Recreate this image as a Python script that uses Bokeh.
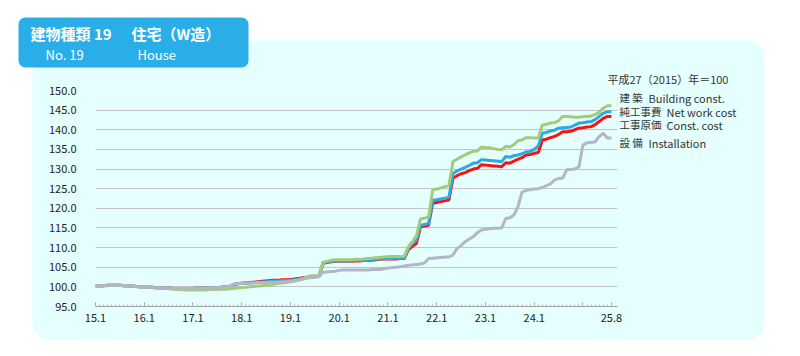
from bokeh.plotting import figure
from bokeh.layouts import column
from bokeh.models import (ColumnDataSource, Range1d, FixedTicker, PrintfTickFormatter,
                          BoxAnnotation, Label)
from bokeh.embed import file_html
from bokeh.resources import INLINE

# ---------------- data (monthly, 2015.1 - 2025.8, 2015 = 100) ----------------
tick_months = [0, 12, 24, 36, 48, 60, 72, 84, 96, 108, 120, 127]
tick_labels = ["15.1", "16.1", "17.1", "18.1", "19.1", "20.1", "21.1", "22.1",
               "23.1", "24.1", "", "25.8"]
y_ticks = [95, 100, 105, 110, 115, 120, 125, 130, 135, 140, 145, 150]

building = [
    100.2, 100.2, 100.3, 100.3, 100.4, 100.4, 100.4, 100.3, 100.3, 100.2, 100.1, 100.0,
    99.9, 99.9, 99.8, 99.7, 99.7, 99.6, 99.5, 99.4, 99.3, 99.3, 99.2, 99.2,
    99.2, 99.2, 99.2, 99.2, 99.3, 99.3, 99.3, 99.4, 99.4, 99.5, 99.6, 99.7,
    99.8, 99.9, 100.0, 100.1, 100.2, 100.3, 100.4, 100.5, 100.7, 100.9, 101.0, 101.1,
    101.3, 101.5, 101.7, 102.0, 102.6, 102.8, 102.8, 102.9, 106.3, 106.5, 106.8, 106.9,
    106.9, 106.9, 106.9, 106.9, 107.0, 107.0, 107.1, 107.2, 107.3, 107.4, 107.5, 107.6,
    107.7, 107.7, 107.7, 107.7, 107.8, 110.2, 111.5, 112.9, 117.3, 117.5, 117.8, 124.7,
    124.9, 125.2, 125.5, 125.9, 131.9, 132.5, 133.1, 133.6, 134.1, 134.5, 134.6, 135.6,
    135.5, 135.4, 135.2, 135.0, 134.9, 135.8, 135.6, 136.2, 137.2, 137.4, 138.0, 138.0,
    137.9, 137.9, 141.2, 141.4, 141.7, 141.8, 142.3, 143.4, 143.4, 143.3, 143.2, 143.2,
    143.3, 143.4, 143.5, 143.9, 144.5, 145.5, 146.1, 146.1,
]

net_work = [
    100.2, 100.3, 100.3, 100.4, 100.4, 100.4, 100.4, 100.3, 100.3, 100.2, 100.1, 100.0,
    100.0, 99.9, 99.9, 99.8, 99.8, 99.7, 99.7, 99.6, 99.6, 99.6, 99.6, 99.6,
    99.6, 99.7, 99.7, 99.7, 99.8, 99.8, 99.8, 99.9, 100.0, 100.1, 100.6, 100.8,
    100.9, 101.0, 101.0, 101.1, 101.2, 101.2, 101.3, 101.4, 101.5, 101.5, 101.6, 101.6,
    101.7, 101.8, 101.9, 102.1, 102.3, 102.5, 102.6, 102.7, 106.1, 106.3, 106.5, 106.6,
    106.6, 106.6, 106.6, 106.6, 106.7, 106.7, 106.8, 106.8, 106.9, 107.0, 107.1, 107.2,
    107.2, 107.2, 107.3, 107.3, 107.3, 109.8, 111.0, 111.9, 115.7, 115.9, 116.1, 122.1,
    122.2, 122.4, 122.6, 122.8, 128.9, 129.5, 130.0, 130.4, 130.9, 131.5, 131.6, 132.4,
    132.3, 132.2, 132.1, 132.0, 131.9, 133.2, 133.0, 133.4, 133.6, 133.9, 134.4, 134.5,
    135.0, 135.9, 139.1, 139.3, 139.7, 139.9, 140.4, 140.5, 140.6, 140.7, 141.2, 141.7,
    141.8, 142.0, 142.1, 142.6, 143.4, 144.2, 144.6, 144.6,
]

const_cost = [
    100.2, 100.3, 100.3, 100.4, 100.4, 100.4, 100.4, 100.3, 100.3, 100.2, 100.1, 100.0,
    100.0, 99.9, 99.9, 99.8, 99.8, 99.7, 99.7, 99.6, 99.6, 99.6, 99.6, 99.6,
    99.6, 99.7, 99.7, 99.7, 99.8, 99.8, 99.8, 99.9, 100.0, 100.1, 100.6, 100.8,
    100.9, 101.0, 101.1, 101.2, 101.3, 101.4, 101.5, 101.6, 101.7, 101.7, 101.8, 101.8,
    101.9, 102.0, 102.1, 102.3, 102.4, 102.5, 102.6, 102.7, 106.0, 106.2, 106.4, 106.5,
    106.5, 106.5, 106.5, 106.5, 106.6, 106.6, 106.7, 106.7, 106.8, 106.9, 107.0, 107.1,
    107.1, 107.1, 107.1, 107.2, 107.2, 109.4, 110.3, 111.1, 115.3, 115.5, 115.7, 121.3,
    121.5, 121.7, 121.9, 122.1, 127.7, 128.3, 128.8, 129.1, 129.6, 130.0, 130.2, 131.1,
    131.0, 130.9, 130.8, 130.7, 130.6, 131.6, 131.5, 132.0, 132.5, 132.9, 133.6, 133.7,
    134.0, 134.2, 137.4, 137.6, 138.0, 138.3, 138.8, 139.5, 139.5, 139.6, 140.0, 140.4,
    140.5, 140.7, 140.8, 141.3, 142.1, 142.9, 143.4, 143.4,
]

installation = [
    100.2, 100.3, 100.3, 100.4, 100.4, 100.4, 100.4, 100.3, 100.3, 100.2, 100.1, 100.0,
    100.0, 99.9, 99.9, 99.8, 99.8, 99.7, 99.7, 99.6, 99.6, 99.6, 99.6, 99.6,
    99.6, 99.7, 99.7, 99.7, 99.8, 99.8, 99.8, 99.9, 100.0, 100.1, 100.7, 100.8,
    100.9, 100.9, 101.0, 101.0, 101.1, 101.1, 101.1, 101.2, 101.2, 101.2, 101.3, 101.3,
    101.5, 101.6, 101.8, 102.0, 102.2, 102.4, 102.5, 102.6, 103.7, 103.8, 103.9, 104.0,
    104.2, 104.3, 104.3, 104.3, 104.3, 104.3, 104.3, 104.3, 104.4, 104.4, 104.4, 104.6,
    104.8, 104.9, 105.0, 105.1, 105.3, 105.5, 105.6, 105.7, 105.8, 106.1, 107.2, 107.3,
    107.4, 107.5, 107.6, 107.6, 108.1, 109.8, 110.5, 111.5, 112.2, 112.8, 113.8, 114.5,
    114.7, 114.8, 114.9, 114.9, 115.0, 117.4, 117.6, 118.3, 120.4, 124.2, 124.5, 124.8,
    124.9, 125.0, 125.3, 125.8, 126.2, 127.2, 127.6, 127.7, 129.8, 129.9, 130.0, 130.6,
    136.1, 136.7, 136.8, 136.9, 138.3, 139.1, 137.9, 137.9,
]

months = list(range(len(building)))

series_names = ["const_cost", "net_work", "building", "installation"]
legend_jp = ["建 築", "純工事費", "工事原価", "設 備"]
legend_en = ["Building const.", "Net work cost", "Const. cost", "Installation"]

# ---------------- styling ----------------
FONT = "Noto Sans CJK JP"
PANEL = "#E5FFFF"
TITLE_BLUE = "#2AAEE8"
colors = {"building": "#A2CB7A", "net_work": "#29ABE2",
          "const_cost": "#FF1010", "installation": "#B2B6C8"}

W, H = 800, 356

# ---- background / decoration layer (frame covers the whole canvas, pixel coords) ----
bg = figure(width=W, height=H, output_backend="svg", toolbar_location=None,
            x_range=Range1d(0, W), y_range=Range1d(H, 0),
            x_axis_type=None, y_axis_type=None, min_border=0, frame_align=False)
bg.outline_line_color = None
bg.border_fill_color = "white"
bg.background_fill_color = "white"
bg.xgrid.visible = False
bg.ygrid.visible = False

bg.add_layout(BoxAnnotation(left=32, right=764, top=40, bottom=339,
                            fill_color=PANEL, fill_alpha=1, line_color=None,
                            border_radius=16, level="underlay"))
bg.add_layout(BoxAnnotation(left=18, right=248, top=17, bottom=67,
                            fill_color=TITLE_BLUE, fill_alpha=1, line_color=None,
                            border_radius=7, level="underlay"))


def add_label(x, y, text, size, color, bold=False):
    bg.add_layout(Label(x=x, y=y, text=text,
                        text_font=FONT, text_font_size=size, text_color=color,
                        text_font_style="bold" if bold else "normal",
                        text_align="left", text_baseline="middle"))


add_label(30, 33, "建物種類 19", "15px", "white", bold=True)
add_label(131, 33, "住宅（W造）", "15px", "white", bold=True)
add_label(45, 54, "No. 19", "13px", "white")
add_label(137, 54, "House", "13px", "white")

add_label(607, 78, "平成27（2015）年＝100", "11px", "#333333")
legend_y = [97, 111, 124, 142]
legend_en_x = [648, 666, 666, 648]
for jp, en, yy, ex in zip(legend_jp, legend_en, legend_y, legend_en_x):
    add_label(619, yy, jp, "10.5px", "#333333")
    add_label(ex, yy, en, "11px", "#333333")

# ---- chart layer (transparent, overlaid on the decoration layer) ----
source = ColumnDataSource(dict(month=months, building=building, net_work=net_work,
                               const_cost=const_cost, installation=installation))

p = figure(width=W, height=H, output_backend="svg", toolbar_location=None,
           x_range=Range1d(0, 128.5), y_range=Range1d(95, 150),
           min_border_left=95, min_border_right=183, min_border_top=90,
           min_border_bottom=50, margin=(-H, 0, 0, 0), frame_align=False)
p.border_fill_color = None
p.background_fill_color = None
p.outline_line_color = None

for name in series_names:
    p.line("month", name, source=source, line_color=colors[name], line_width=3)

p.xaxis.ticker = FixedTicker(ticks=tick_months, minor_ticks=months)
p.xaxis.major_label_overrides = {m: lab for m, lab in zip(tick_months, tick_labels)}
p.xaxis.axis_line_color = "#A0A0A0"
p.xaxis.major_tick_line_color = "#A0A0A0"
p.xaxis.minor_tick_line_color = "#B8B8B8"
p.xaxis.major_tick_in = 4
p.xaxis.major_tick_out = 0
p.xaxis.minor_tick_in = 2
p.xaxis.minor_tick_out = 0
p.xaxis.major_label_standoff = 7
p.xaxis.major_label_text_font = FONT
p.xaxis.major_label_text_font_size = "11px"
p.xaxis.major_label_text_color = "#222222"

p.yaxis.ticker = FixedTicker(ticks=y_ticks)
p.yaxis.formatter = PrintfTickFormatter(format="%.1f")
p.yaxis.axis_line_color = None
p.yaxis.major_tick_line_color = None
p.yaxis.minor_tick_line_color = None
p.yaxis.major_label_standoff = 13
p.yaxis.major_label_text_font = FONT
p.yaxis.major_label_text_font_size = "11px"
p.yaxis.major_label_text_color = "#222222"

p.xgrid.visible = False
p.ygrid.ticker = FixedTicker(ticks=y_ticks[1:])
p.ygrid.grid_line_color = "#C4C4C4"
p.ygrid.grid_line_width = 1

layout = column(bg, p, spacing=0)
open("out.html", "w").write(file_html(layout, INLINE))
